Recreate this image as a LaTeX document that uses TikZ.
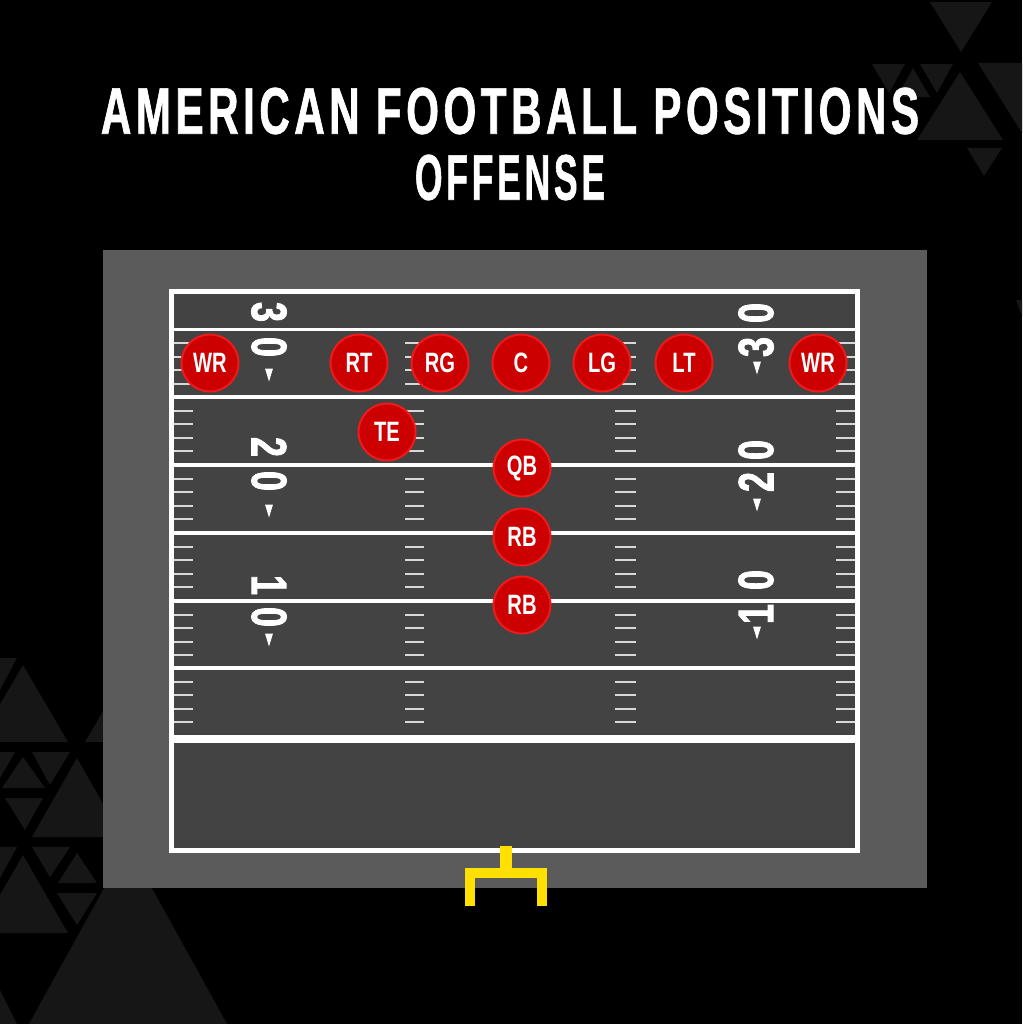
\documentclass[tikz,border=0pt]{standalone}
\usepackage{fontspec}
\setmainfont{Liberation Sans}
\newfontfamily\tfont{Liberation Sans}[FakeStretch=0.65,LetterSpace=7,FakeBold=1]
\newfontfamily\cfont{Liberation Sans}[FakeStretch=0.72]
\newfontfamily\nfont{Liberation Sans}[FakeStretch=0.72,FakeBold=1.5]
\usepackage{graphicx}
\definecolor{bgtri}{HTML}{161616}
\definecolor{outerc}{HTML}{5B5B5B}
\definecolor{fieldc}{HTML}{434344}
\definecolor{hashc}{HTML}{D8D8D8}
\definecolor{pred}{HTML}{CC0000}
\definecolor{pedge}{HTML}{F01A1A}
\definecolor{postc}{HTML}{FFE000}
\tikzset{
  tri/.style={fill=bgtri},
  yardline/.style={white,line width=3.5pt},
  hashline/.style={hashc,line width=2pt},
  player/.style={circle,fill=pred,draw=pedge,line width=2pt,minimum size=57pt,inner sep=0pt,
    text=white,font=\cfont\bfseries\fontsize{28}{28}\selectfont},
  numlab/.style={inner sep=0pt,text=white,font=\nfont\bfseries\fontsize{50}{50}\selectfont},
  arrowtri/.style={fill=white},
  titlelab/.style={inner sep=0pt,text=white}
}
\begin{document}
\begin{tikzpicture}[x=1pt,y=-1pt]
\useasboundingbox (0,0) rectangle (1022,1024);
\fill[black] (0,0) rectangle (1022,1024);
% background triangles, top right
\fill[tri] (930,2) -- (992,2) -- (961,52) -- cycle;
\fill[tri] (872,64) -- (905,64) -- (889,93) -- cycle;
\fill[tri] (913,68) -- (897,97) -- (930,97) -- cycle;
\fill[tri] (920,64) -- (953,64) -- (937,93) -- cycle;
\fill[tri] (960,72) -- (917,140) -- (1003,140) -- cycle;
\fill[tri] (978,63) -- (1022,63) -- (1022,133) -- cycle;
\fill[tri] (967,148) -- (1002,148) -- (984,176) -- cycle;
\fill[tri] (1016,300) -- (1022,300) -- (1022,316) -- cycle;
% background triangles, bottom left
\fill[tri] (0,658) -- (17,658) -- (0,690) -- cycle;
\fill[tri] (23,665) -- (-22,742) -- (68,742) -- cycle;
\fill[tri] (130,665) -- (85,742) -- (175,742) -- cycle;
\fill[tri] (23,757) -- (2,788) -- (45,788) -- cycle;
\fill[tri] (5,798) -- (43,798) -- (25,830) -- cycle;
\fill[tri] (32,752) -- (70,752) -- (50,785) -- cycle;
\fill[tri] (77,758) -- (32,837) -- (122,837) -- cycle;
\fill[tri] (0,752) -- (15,752) -- (0,778) -- cycle;
\fill[tri] (0,847) -- (17,847) -- (0,878) -- cycle;
\fill[tri] (23,855) -- (-22,933) -- (68,933) -- cycle;
\fill[tri] (32,847) -- (70,847) -- (50,877) -- cycle;
\fill[tri] (77,853) -- (58,883) -- (97,883) -- cycle;
\fill[tri] (57,893) -- (97,893) -- (77,925) -- cycle;
\fill[tri] (128,845) -- (20,1040) -- (236,1040) -- cycle;
\fill[tri] (0,990) -- (17,1024) -- (0,1024) -- cycle;
% field
\fill[outerc] (103,250) rectangle (927,888);
\fill[fieldc] (171.5,291) rectangle (857.5,850);
\foreach \y in {329.5,397,465,533,601,668}
  \draw[yardline] (171.5,\y) -- (857.5,\y);
\draw[white,line width=8pt] (171.5,739) -- (857.5,739);
\draw[white,line width=5pt] (171.5,291) rectangle (857.5,850);
% hash marks
\foreach \y in {329.5,397,465,533,601,668}{
  \foreach \k in {1,...,4}{
    \pgfmathsetmacro\yy{\y+13.6*\k}
    \foreach \xa/\xb in {174/193,405/424,615/636,836/855}
      \draw[hashline] (\xa,\yy) -- (\xb,\yy);
  }
}
% yard numbers, left side
\node[numlab,rotate=-90] (l3) at (269,312) {3};
\node[numlab,rotate=-90] (l30) at (269,347) {0};
\node[numlab,rotate=-90] (l2) at (269,447) {2};
\node[numlab,rotate=-90] (l20) at (269,481) {0};
\node[numlab,rotate=-90] (l1) at (269,585) {1};
\node[numlab,rotate=-90] (l10) at (269,617) {0};
% yard numbers, right side
\node[numlab,rotate=90] (r30) at (756,313) {0};
\node[numlab,rotate=90] (r3) at (756,347) {3};
\node[numlab,rotate=90] (r20) at (756,450) {0};
\node[numlab,rotate=90] (r2) at (756,482) {2};
\node[numlab,rotate=90] (r10) at (756,580) {0};
\node[numlab,rotate=90] (r1) at (756,614) {1};
% direction arrows
\foreach \ax/\ay in {269/375,269/511,269/640,757/368,757/505,757/633}
  \fill[arrowtri] (\ax-4,\ay-6.5) -- (\ax+4,\ay-6.5) -- (\ax,\ay+6.5) -- cycle;
% goal post
\draw[postc,line width=10pt,line join=miter] (470,906) -- (470,873) -- (542,873) -- (542,906);
\draw[postc,line width=12pt] (505.5,846) -- (505.5,873);
% titles
\node[titlelab] (title) at (510,111) {\resizebox{818pt}{46pt}{\tfont\bfseries AMERICAN FOOTBALL POSITIONS}};
\node[titlelab] (subtitle) at (510,177.5) {\resizebox{190pt}{45pt}{\tfont\bfseries OFFENSE}};
% players
\node[player] (wrl) at (210,363) {WR};
\node[player] (rt) at (359,363) {RT};
\node[player] (rg) at (440,363) {RG};
\node[player] (c) at (521,363) {C};
\node[player] (lg) at (602,363) {LG};
\node[player] (lt) at (684,363) {LT};
\node[player] (wrr) at (818,363) {WR};
\node[player] (te) at (387,432) {TE};
\node[player] (qb) at (522,468) {QB};
\node[player] (rb1) at (522,537) {RB};
\node[player] (rb2) at (522,605) {RB};
\end{tikzpicture}
\end{document}
